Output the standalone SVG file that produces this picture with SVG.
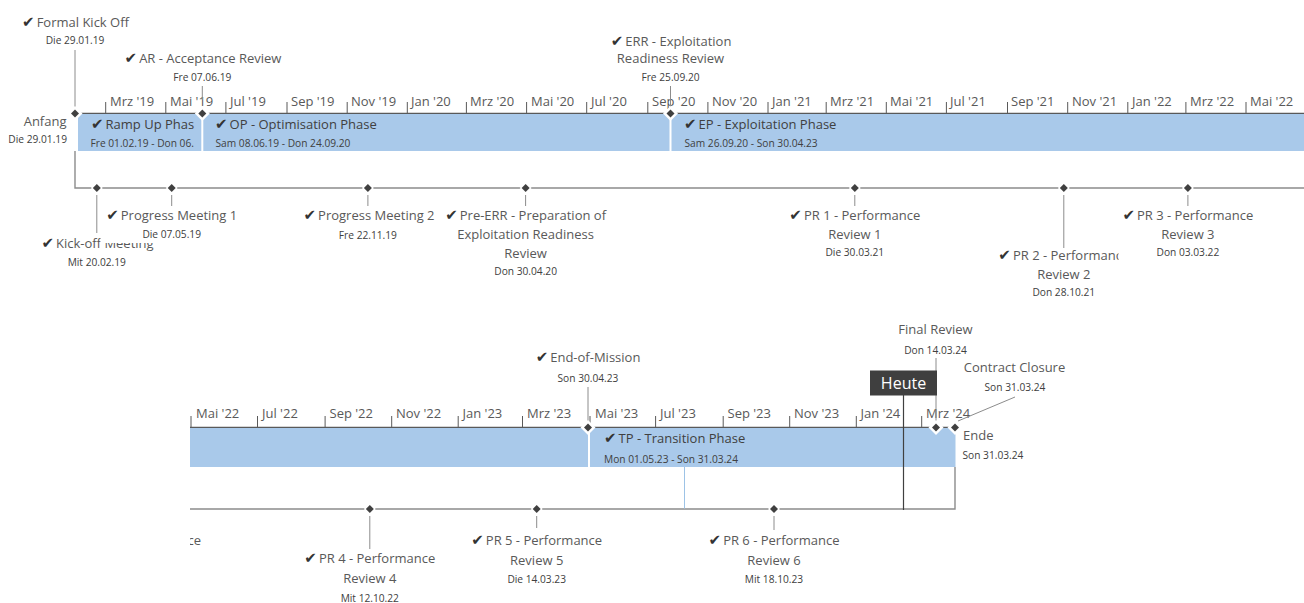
<svg xmlns="http://www.w3.org/2000/svg" width="1304" height="603" viewBox="0 0 1304 603">
<defs>
<style>
text{font-family:"Open Sans","Noto Sans",sans-serif}
.t{font-size:13px;fill:#595959}
.b{font-size:13px;fill:#404040}
.d{font-size:10.2px;fill:#404040}
.ax{font-size:13px;fill:#595959}
.ck{font-family:"DejaVu Sans",sans-serif;font-size:15px;fill:#333333}
.c{text-anchor:middle}
.e{text-anchor:end}
.ln{stroke:#8c8c8c;stroke-width:1;fill:none}
.ml{stroke:#8c8c8c;stroke-width:1.4;fill:none}
.tick{stroke:#595959;stroke-width:1}
.axis{stroke:#595959;stroke-width:1.4}
.bar{fill:#A9C9EA}
.dm{fill:#404040}
.halo{fill:#ffffff}
.wb{fill:#ffffff}
</style>
<path id="dia" d="M0,-4 L4,0 L0,4 L-4,0Z"/>
<path id="halo" d="M0,-7.5 L7.5,0 L0,7.5 L-7.5,0Z"/>
<path id="halo2" d="M0,-6 L6,0 L0,6 L-6,0Z"/>
<clipPath id="clipRamp"><rect x="78" y="114" width="120" height="37"/></clipPath>
<clipPath id="clipRow2"><rect x="190" y="300" width="1114" height="303"/></clipPath>
</defs>

<!-- ===== Row 1: axis and phases ===== -->
<g id="row1-axis">
  <line class="axis" x1="79" y1="113.5" x2="1304" y2="113.5"/>
  <g class="tick">
    <line x1="105.7" y1="102" x2="105.7" y2="113"/>
    <line x1="165.8" y1="102" x2="165.8" y2="113"/>
    <line x1="225.9" y1="102" x2="225.9" y2="113"/>
    <line x1="287" y1="102" x2="287" y2="113"/>
    <line x1="347.2" y1="102" x2="347.2" y2="113"/>
    <line x1="407.3" y1="102" x2="407.3" y2="113"/>
    <line x1="466.4" y1="102" x2="466.4" y2="113"/>
    <line x1="526.6" y1="102" x2="526.6" y2="113"/>
    <line x1="586.7" y1="102" x2="586.7" y2="113"/>
    <line x1="647.8" y1="102" x2="647.8" y2="113"/>
    <line x1="707.9" y1="102" x2="707.9" y2="113"/>
    <line x1="768" y1="102" x2="768" y2="113"/>
    <line x1="826.2" y1="102" x2="826.2" y2="113"/>
    <line x1="886.3" y1="102" x2="886.3" y2="113"/>
    <line x1="946.4" y1="102" x2="946.4" y2="113"/>
    <line x1="1007.5" y1="102" x2="1007.5" y2="113"/>
    <line x1="1067.7" y1="102" x2="1067.7" y2="113"/>
    <line x1="1127.8" y1="102" x2="1127.8" y2="113"/>
    <line x1="1185.9" y1="102" x2="1185.9" y2="113"/>
    <line x1="1246" y1="102" x2="1246" y2="113"/>
  </g>
  <g class="ax">
    <text x="110" y="106">Mrz '19</text>
    <text x="170" y="106">Mai '19</text>
    <text x="230" y="106">Jul '19</text>
    <text x="291" y="106">Sep '19</text>
    <text x="351" y="106">Nov '19</text>
    <text x="411" y="106">Jan '20</text>
    <text x="470" y="106">Mrz '20</text>
    <text x="531" y="106">Mai '20</text>
    <text x="591" y="106">Jul '20</text>
    <text x="652" y="106">Sep '20</text>
    <text x="712" y="106">Nov '20</text>
    <text x="772" y="106">Jan '21</text>
    <text x="830" y="106">Mrz '21</text>
    <text x="890" y="106">Mai '21</text>
    <text x="950" y="106">Jul '21</text>
    <text x="1011" y="106">Sep '21</text>
    <text x="1072" y="106">Nov '21</text>
    <text x="1132" y="106">Jan '22</text>
    <text x="1190" y="106">Mrz '22</text>
    <text x="1250" y="106">Mai '22</text>
  </g>
</g>

<g id="phase-rampup">
  <rect class="bar" x="78" y="114" width="123.3" height="37"/>
  <g clip-path="url(#clipRamp)">
    <text class="b" x="91" y="129.3"><tspan class="ck">✔</tspan><tspan dx="2">Ramp Up Phas</tspan></text>
    <text class="d" x="90.5" y="146.5">Fre 01.02.19 - Don 06.</text>
  </g>
</g>
<g id="phase-op">
  <rect class="bar" x="203.3" y="114" width="466.2" height="37"/>
  <text class="b" x="215" y="129.3"><tspan class="ck">✔</tspan><tspan dx="2">OP - Optimisation Phase</tspan></text>
  <text class="d" x="215.5" y="146.5">Sam 08.06.19 - Don 24.09.20</text>
</g>
<g id="phase-ep">
  <rect class="bar" x="671.5" y="114" width="632.5" height="37"/>
  <text class="b" x="684" y="129.3"><tspan class="ck">✔</tspan><tspan dx="2">EP - Exploitation Phase</tspan></text>
  <text class="d" x="684.5" y="146.5">Sam 26.09.20 - Son 30.04.23</text>
</g>

<!-- ===== Row 2: axis and phases ===== -->
<g id="row2-axis">
  <line class="axis" x1="190" y1="427.5" x2="955" y2="427.5"/>
  <g class="tick">
    <line x1="191" y1="416" x2="191" y2="427"/>
    <line x1="257.5" y1="416" x2="257.5" y2="427"/>
    <line x1="325.1" y1="416" x2="325.1" y2="427"/>
    <line x1="391.7" y1="416" x2="391.7" y2="427"/>
    <line x1="458.2" y1="416" x2="458.2" y2="427"/>
    <line x1="522.5" y1="416" x2="522.5" y2="427"/>
    <line x1="590" y1="416" x2="590" y2="427"/>
    <line x1="655.6" y1="416" x2="655.6" y2="427"/>
    <line x1="723.2" y1="416" x2="723.2" y2="427"/>
    <line x1="789.7" y1="416" x2="789.7" y2="427"/>
    <line x1="856.3" y1="416" x2="856.3" y2="427"/>
    <line x1="921.7" y1="416" x2="921.7" y2="427"/>
  </g>
  <g class="ax">
    <text x="196" y="417.5">Mai '22</text>
    <text x="262" y="417.5">Jul '22</text>
    <text x="329.5" y="417.5">Sep '22</text>
    <text x="396" y="417.5">Nov '22</text>
    <text x="462.5" y="417.5">Jan '23</text>
    <text x="527" y="417.5">Mrz '23</text>
    <text x="595" y="417.5">Mai '23</text>
    <text x="660" y="417.5">Jul '23</text>
    <text x="727.5" y="417.5">Sep '23</text>
    <text x="794" y="417.5">Nov '23</text>
    <text x="860.5" y="417.5">Jan '24</text>
    <text x="926" y="417.5">Mrz '24</text>
  </g>
</g>

<g id="phase-ep-cont">
  <rect class="bar" x="190" y="428" width="398" height="39"/>
</g>
<g id="phase-tp">
  <rect class="bar" x="590" y="428" width="365.5" height="39"/>
  <text class="b" x="604" y="443"><tspan class="ck">✔</tspan><tspan dx="2">TP - Transition Phase</tspan></text>
  <text class="d" x="604" y="462.5">Mon 01.05.23 - Son 31.03.24</text>
</g>

<!-- ===== Connectors ===== -->
<g id="connectors">
  <path class="ml" d="M75,151 V188 H1304"/>
  <path class="ml" d="M190,509 H955 V467"/>
  <line x1="684.5" y1="467" x2="684.5" y2="508.5" stroke="#9DC3E6" stroke-width="1"/>
  <path class="ln" d="M75,50 V108"/>
  <path class="ln" d="M202.3,86 V100"/>
  <path class="ln" d="M670.5,86 V108"/>
  <path class="ln" d="M96.8,195 V233"/>
  <path class="ln" d="M171.7,195 V206"/>
  <path class="ln" d="M367.9,195 V206"/>
  <path class="ln" d="M525.6,195 V206"/>
  <path class="ln" d="M854.8,195 V206"/>
  <path class="ln" d="M1063.8,195 V248"/>
  <path class="ln" d="M1187.9,195 V206"/>
  <path class="ln" d="M588,387 V421"/>
  <path class="ln" d="M936,358 V421"/>
  <path class="ln" d="M1015,397 L958,421"/>
  <path class="ln" d="M369.8,516 V549"/>
  <path class="ln" d="M536.7,516 V528"/>
  <path class="ln" d="M774,516 V530"/>
  <line x1="903.5" y1="395" x2="903.5" y2="510" stroke="#404040" stroke-width="1.2"/>
</g>

<!-- ===== Row 1 axis milestones ===== -->
<g id="ms-anfang">
  <use href="#halo" x="75" y="113.5" class="halo"/>
  <use href="#dia" x="75" y="113.5" class="dm"/>
  <text class="t e" x="66.5" y="126">Anfang</text>
  <text class="d e" x="67" y="143">Die 29.01.19</text>
</g>
<g id="ms-formal-kickoff">
  <text class="t c" x="75.5" y="26.7"><tspan class="ck">✔</tspan><tspan dx="2">Formal Kick Off</tspan></text>
  <text class="d c" x="75" y="44.3">Die 29.01.19</text>
</g>
<g id="ms-ar">
  <use href="#halo" x="202.3" y="113.5" class="halo"/>
  <use href="#dia" x="202.3" y="113.5" class="dm"/>
  <text class="t c" x="203" y="63.3"><tspan class="ck">✔</tspan><tspan dx="2">AR - Acceptance Review</tspan></text>
  <text class="d c" x="202.3" y="80.5">Fre 07.06.19</text>
</g>
<g id="ms-err">
  <use href="#halo" x="670.5" y="113.5" class="halo"/>
  <use href="#dia" x="670.5" y="113.5" class="dm"/>
  <text class="t c" x="671" y="46"><tspan class="ck">✔</tspan><tspan dx="2">ERR - Exploitation</tspan></text>
  <text class="t c" x="670.5" y="63.3">Readiness Review</text>
  <text class="d c" x="670.5" y="80.5">Fre 25.09.20</text>
</g>

<!-- ===== Row 1 lower milestones ===== -->
<g id="ms-kickoff-meeting">
  <use href="#halo2" x="96.8" y="188" class="halo"/>
  <use href="#dia" x="96.8" y="188" class="dm"/>
  <text class="t c" x="97.5" y="248"><tspan class="ck">✔</tspan><tspan dx="2">Kick-off Meeting</tspan></text>
  <text class="d c" x="96.8" y="266">Mit 20.02.19</text>
</g>
<g id="ms-pm1">
  <use href="#halo2" x="171.7" y="188" class="halo"/>
  <use href="#dia" x="171.7" y="188" class="dm"/>
  <rect class="wb" x="100.5" y="207" width="142" height="36"/>
  <text class="t c" x="171.7" y="220"><tspan class="ck">✔</tspan><tspan dx="2">Progress Meeting 1</tspan></text>
  <text class="d c" x="171.7" y="238">Die 07.05.19</text>
</g>
<g id="ms-pm2">
  <use href="#halo2" x="367.9" y="188" class="halo"/>
  <use href="#dia" x="367.9" y="188" class="dm"/>
  <text class="t c" x="369" y="220"><tspan class="ck">✔</tspan><tspan dx="2">Progress Meeting 2</tspan></text>
  <text class="d c" x="367.9" y="238.5">Fre 22.11.19</text>
</g>
<g id="ms-pre-err">
  <use href="#halo2" x="525.6" y="188" class="halo"/>
  <use href="#dia" x="525.6" y="188" class="dm"/>
  <text class="t c" x="525.6" y="220"><tspan class="ck">✔</tspan><tspan dx="2">Pre-ERR - Preparation of</tspan></text>
  <text class="t c" x="525.6" y="239">Exploitation Readiness</text>
  <text class="t c" x="525.6" y="257.5">Review</text>
  <text class="d c" x="525.6" y="275">Don 30.04.20</text>
</g>
<g id="ms-pr1">
  <use href="#halo2" x="854.8" y="188" class="halo"/>
  <use href="#dia" x="854.8" y="188" class="dm"/>
  <text class="t c" x="854.8" y="220"><tspan class="ck">✔</tspan><tspan dx="2">PR 1 - Performance</tspan></text>
  <text class="t c" x="854.8" y="238.5">Review 1</text>
  <text class="d c" x="854.8" y="256">Die 30.03.21</text>
</g>
<g id="ms-pr2">
  <use href="#halo2" x="1063.8" y="188" class="halo"/>
  <use href="#dia" x="1063.8" y="188" class="dm"/>
  <text class="t c" x="1063.8" y="260"><tspan class="ck">✔</tspan><tspan dx="2">PR 2 - Performance</tspan></text>
  <text class="t c" x="1063.8" y="278.5">Review 2</text>
  <text class="d c" x="1063.8" y="296">Don 28.10.21</text>
</g>
<g id="ms-pr3">
  <use href="#halo2" x="1187.9" y="188" class="halo"/>
  <use href="#dia" x="1187.9" y="188" class="dm"/>
  <rect class="wb" x="1118.5" y="207" width="138" height="59"/>
  <text class="t c" x="1187.9" y="220"><tspan class="ck">✔</tspan><tspan dx="2">PR 3 - Performance</tspan></text>
  <text class="t c" x="1187.9" y="238.5">Review 3</text>
  <text class="d c" x="1187.9" y="256">Don 03.03.22</text>
</g>

<!-- ===== Row 2 axis milestones ===== -->
<g id="ms-end-of-mission">
  <use href="#halo" x="588" y="427.5" class="halo"/>
  <use href="#dia" x="588" y="427.5" class="dm"/>
  <text class="t c" x="588" y="362"><tspan class="ck">✔</tspan><tspan dx="2">End-of-Mission</tspan></text>
  <text class="d c" x="588" y="382">Son 30.04.23</text>
</g>
<g id="ms-final-review">
  <use href="#halo" x="936" y="427.5" class="halo"/>
  <use href="#dia" x="936" y="427.5" class="dm"/>
  <text class="t c" x="935.5" y="334">Final Review</text>
  <text class="d c" x="935.5" y="354">Don 14.03.24</text>
</g>
<g id="ms-ende">
  <use href="#halo" x="955" y="427.5" class="halo"/>
  <use href="#dia" x="955" y="427.5" class="dm"/>
  <text class="t" x="963" y="439.5">Ende</text>
  <text class="d" x="962.5" y="459">Son 31.03.24</text>
</g>
<g id="ms-contract-closure">
  <text class="t c" x="1014.5" y="371.5">Contract Closure</text>
  <text class="d c" x="1015" y="390.5">Son 31.03.24</text>
</g>
<g id="today">
  <rect x="870" y="370.5" width="67" height="25" fill="#3f3f3f"/>
  <text x="903.5" y="389" text-anchor="middle" font-size="16" fill="#ffffff">Heute</text>
</g>

<!-- ===== Row 2 lower milestones ===== -->
<g id="ms-pr3-cont" clip-path="url(#clipRow2)">
  <text class="t e" x="201" y="545"><tspan class="ck">✔</tspan><tspan dx="2">PR 3 - Performance</tspan></text>
</g>
<g id="ms-pr4">
  <use href="#halo2" x="369.8" y="509" class="halo"/>
  <use href="#dia" x="369.8" y="509" class="dm"/>
  <text class="t c" x="369.8" y="563"><tspan class="ck">✔</tspan><tspan dx="2">PR 4 - Performance</tspan></text>
  <text class="t c" x="369.8" y="583">Review 4</text>
  <text class="d c" x="369.8" y="602">Mit 12.10.22</text>
</g>
<g id="ms-pr5">
  <use href="#halo2" x="536.7" y="509" class="halo"/>
  <use href="#dia" x="536.7" y="509" class="dm"/>
  <text class="t c" x="536.7" y="545"><tspan class="ck">✔</tspan><tspan dx="2">PR 5 - Performance</tspan></text>
  <text class="t c" x="536.7" y="564.5">Review 5</text>
  <text class="d c" x="536.7" y="583">Die 14.03.23</text>
</g>
<g id="ms-pr6">
  <use href="#halo2" x="774" y="509" class="halo"/>
  <use href="#dia" x="774" y="509" class="dm"/>
  <text class="t c" x="774" y="545"><tspan class="ck">✔</tspan><tspan dx="2">PR 6 - Performance</tspan></text>
  <text class="t c" x="774" y="564.5">Review 6</text>
  <text class="d c" x="774" y="583">Mit 18.10.23</text>
</g>
</svg>
